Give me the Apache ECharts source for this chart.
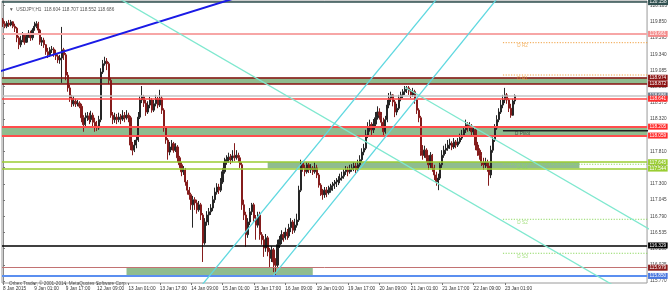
<!DOCTYPE html>
<html><head><meta charset="utf-8">
<script src="https://cdn.jsdelivr.net/npm/echarts@6/dist/echarts.min.js"></script>
<style>html,body{margin:0;padding:0;background:#fff}#c{width:670px;height:292px}</style>
</head><body><div id="c"></div>
<script>
// ---- data ----
const tickLabels = ["8 Jan 2015","9 Jan 01:00","9 Jan 17:00","12 Jan 09:00","13 Jan 01:00","13 Jan 17:00","14 Jan 09:00","15 Jan 01:00","15 Jan 17:00","16 Jan 09:00","19 Jan 01:00","19 Jan 17:00","20 Jan 09:00","21 Jan 01:00","21 Jan 17:00","22 Jan 09:00","23 Jan 01:00"];
const priceTicks = [115.770,116.025,116.280,116.535,116.790,117.045,117.300,117.555,117.810,118.065,118.320,118.575,118.830,119.085,119.340,119.595,119.850,120.105];
const slotCount = 329;
const barsPerLabel = 16;
const opens = [
119.88,119.82,119.78,119.83,119.80,119.85,119.78,119.75,119.60,119.49,
119.56,119.64,119.53,119.61,119.67,119.60,119.72,119.78,119.82,119.72,
119.53,119.56,119.49,119.38,119.33,119.41,119.42,119.34,119.31,119.25,
119.28,119.41,119.33,119.01,118.81,118.65,118.56,118.60,118.56,118.57,
118.52,118.34,118.23,118.34,118.37,118.31,118.38,118.27,118.21,118.18,
118.31,119.06,119.19,119.23,119.19,118.93,118.38,118.31,118.35,118.31,
118.35,118.32,118.37,118.34,118.38,118.34,117.91,117.83,117.91,117.99,
118.35,118.62,118.67,118.57,118.43,118.54,118.62,118.46,118.56,118.64,
118.54,118.65,118.46,118.18,117.99,117.80,117.88,117.93,117.83,117.88,
117.71,117.60,117.49,117.52,117.33,117.20,117.13,116.97,117.05,117.00,
116.89,116.97,116.81,116.37,116.70,116.81,116.86,116.92,117.05,117.17,
117.25,117.20,117.33,117.49,117.64,117.68,117.72,117.68,117.74,117.71,
117.75,117.71,117.60,116.97,116.81,116.50,116.70,116.86,116.97,116.76,
116.65,116.81,116.50,116.42,116.29,116.45,116.23,116.13,116.26,116.07,
116.02,116.34,116.42,116.50,116.45,116.54,116.48,116.61,116.70,116.57,
116.65,116.73,117.20,117.63,117.55,117.49,117.60,117.52,117.55,117.49,
117.55,117.44,117.28,117.17,117.13,117.20,117.16,117.20,117.24,117.27,
117.30,117.33,117.36,117.39,117.42,117.49,117.52,117.49,117.53,117.55,
117.58,117.52,117.60,117.68,117.80,117.86,118.07,118.18,118.23,118.15,
118.24,118.34,118.43,118.38,118.27,118.12,118.31,118.54,118.65,118.70,
118.59,118.43,118.49,118.65,118.70,118.75,118.79,118.81,118.76,118.70,
118.75,118.62,118.46,118.34,117.83,117.75,117.83,117.71,117.60,117.75,
117.55,117.44,117.33,117.39,117.60,117.75,117.83,117.86,117.91,117.94,
117.88,117.96,117.91,117.96,118.02,118.07,118.15,118.23,118.18,118.21,
118.12,118.15,117.91,117.83,117.75,117.64,117.60,117.64,117.58,117.44,
117.83,117.99,118.18,118.31,118.43,118.54,118.62,118.70,118.62,118.49,
118.38,118.604];
const closes = [
119.82,119.78,119.83,119.80,119.85,119.78,119.75,119.60,119.49,119.56,
119.64,119.53,119.61,119.67,119.60,119.72,119.78,119.82,119.72,119.53,
119.56,119.49,119.38,119.33,119.41,119.42,119.34,119.31,119.25,119.28,
119.41,119.33,119.01,118.81,118.65,118.56,118.60,118.56,118.57,118.52,
118.34,118.23,118.34,118.37,118.31,118.38,118.27,118.21,118.18,118.31,
119.06,119.19,119.23,119.19,118.93,118.38,118.31,118.35,118.31,118.35,
118.32,118.37,118.34,118.38,118.34,117.91,117.83,117.91,117.99,118.35,
118.62,118.67,118.57,118.43,118.54,118.62,118.46,118.56,118.64,118.54,
118.65,118.46,118.18,117.99,117.80,117.88,117.93,117.83,117.88,117.71,
117.60,117.49,117.52,117.33,117.20,117.13,116.97,117.05,117.00,116.89,
116.97,116.81,116.37,116.70,116.81,116.86,116.92,117.05,117.17,117.25,
117.20,117.33,117.49,117.64,117.68,117.72,117.68,117.74,117.71,117.75,
117.71,117.60,116.97,116.81,116.50,116.70,116.86,116.97,116.76,116.65,
116.81,116.50,116.42,116.29,116.45,116.23,116.13,116.26,116.07,116.02,
116.34,116.42,116.50,116.45,116.54,116.48,116.61,116.70,116.57,116.65,
116.73,117.20,117.63,117.55,117.49,117.60,117.52,117.55,117.49,117.55,
117.44,117.28,117.17,117.13,117.20,117.16,117.20,117.24,117.27,117.30,
117.33,117.36,117.39,117.42,117.49,117.52,117.49,117.53,117.55,117.58,
117.52,117.60,117.68,117.80,117.86,118.07,118.18,118.23,118.15,118.24,
118.34,118.43,118.38,118.27,118.12,118.31,118.54,118.65,118.70,118.59,
118.43,118.49,118.65,118.70,118.75,118.79,118.81,118.76,118.70,118.75,
118.62,118.46,118.34,117.83,117.75,117.83,117.71,117.60,117.75,117.55,
117.44,117.33,117.39,117.60,117.75,117.83,117.86,117.91,117.94,117.88,
117.96,117.91,117.96,118.02,118.07,118.15,118.23,118.18,118.21,118.12,
118.15,117.91,117.83,117.75,117.64,117.60,117.64,117.58,117.44,117.83,
117.99,118.18,118.31,118.43,118.54,118.62,118.70,118.62,118.49,118.38,
118.604,118.686];
const highs = [
119.91,119.86,119.86,119.88,119.88,119.86,119.82,119.77,119.63,119.63,
119.69,119.66,119.67,119.72,119.71,119.75,119.85,119.86,119.85,119.74,
119.61,119.60,119.50,119.44,119.45,119.47,119.45,119.41,119.34,119.33,
119.77,119.44,119.36,119.06,118.86,118.70,118.68,118.64,118.62,118.60,
118.56,118.38,118.42,118.43,118.42,118.45,118.42,118.34,118.29,118.37,
119.12,119.25,119.30,119.28,119.22,118.97,118.43,118.42,118.40,118.42,
118.40,118.46,118.43,118.46,118.42,118.37,117.96,117.99,118.07,118.43,
118.68,118.84,118.70,118.62,118.60,118.67,118.65,118.62,118.70,118.67,
118.78,118.68,118.49,118.21,118.02,117.96,117.99,117.96,117.94,117.91,
117.74,117.64,117.58,117.55,117.36,117.25,117.16,117.11,117.09,117.05,
117.03,117.00,116.84,116.76,116.87,116.92,116.98,117.11,117.24,117.31,
117.30,117.39,117.55,117.71,117.75,117.79,117.77,117.83,117.94,117.83,
117.79,117.75,117.64,117.05,116.86,116.76,116.92,117.00,117.00,116.81,
116.86,116.86,116.54,116.48,116.51,116.48,116.29,116.32,116.29,116.13,
116.42,116.48,116.57,116.54,116.61,116.59,116.67,116.76,116.73,116.75,
116.83,117.27,117.68,117.66,117.60,117.64,117.63,117.61,117.58,117.64,
117.60,117.47,117.31,117.22,117.25,117.25,117.27,117.30,117.33,117.36,
117.39,117.42,117.46,117.49,117.53,117.58,117.57,117.60,117.61,117.64,
117.63,117.68,117.75,117.86,117.93,118.15,118.27,118.31,118.27,118.32,
118.43,118.52,118.49,118.43,118.34,118.37,118.62,118.73,118.75,118.71,
118.62,118.56,118.70,118.75,118.79,118.84,118.84,118.84,118.79,118.81,
118.78,118.65,118.49,118.37,117.91,117.90,117.86,117.75,117.80,117.77,
117.60,117.49,117.46,117.64,117.83,117.90,117.93,117.99,118.01,117.97,
118.02,117.99,118.02,118.09,118.15,118.21,118.31,118.27,118.27,118.24,
118.21,118.18,117.96,117.86,117.80,117.71,117.71,117.68,117.64,117.90,
118.05,118.24,118.38,118.49,118.62,118.70,118.81,118.73,118.65,118.56,
118.64,118.707];
const lows = [
119.77,119.75,119.75,119.77,119.78,119.75,119.69,119.53,119.42,119.45,
119.53,119.49,119.52,119.60,119.55,119.56,119.71,119.75,119.67,119.49,
119.47,119.44,119.33,119.28,119.30,119.36,119.30,119.25,119.20,119.19,
118.89,119.25,118.93,118.75,118.59,118.51,118.52,118.51,118.52,118.49,
118.27,118.12,118.20,118.29,118.24,118.27,118.21,118.12,118.13,118.15,
118.27,119.03,119.16,119.09,118.87,118.34,118.24,118.26,118.24,118.27,
118.24,118.29,118.27,118.31,118.27,117.83,117.75,117.80,117.86,117.96,
118.32,118.57,118.51,118.37,118.40,118.49,118.42,118.43,118.52,118.49,
118.51,118.40,118.12,117.93,117.68,117.75,117.83,117.79,117.80,117.64,
117.55,117.42,117.44,117.27,117.13,117.05,116.89,116.61,116.89,116.83,
116.86,116.73,116.07,116.34,116.64,116.65,116.81,116.87,117.00,117.13,
117.14,117.17,117.30,117.46,117.60,117.63,117.61,117.64,117.66,117.68,
117.64,117.55,116.89,116.73,116.31,116.45,116.65,116.81,116.70,116.42,
116.61,116.42,116.34,116.15,116.23,116.16,115.99,116.07,115.91,115.85,
115.98,116.29,116.35,116.39,116.42,116.42,116.45,116.54,116.51,116.53,
116.61,116.70,117.17,117.49,117.42,117.46,117.47,117.47,117.44,117.46,
117.39,117.24,117.11,117.05,117.08,117.09,117.13,117.16,117.19,117.22,
117.25,117.28,117.31,117.35,117.38,117.44,117.42,117.46,117.49,117.50,
117.47,117.49,117.57,117.64,117.75,117.83,118.02,118.12,118.07,118.10,
118.20,118.31,118.31,118.18,118.04,118.09,118.27,118.49,118.59,118.52,
118.35,118.38,118.46,118.60,118.65,118.70,118.73,118.70,118.65,118.67,
118.56,118.40,118.27,117.74,117.68,117.71,117.64,117.52,117.55,117.49,
117.36,117.27,117.20,117.36,117.55,117.71,117.77,117.82,117.85,117.83,
117.85,117.86,117.88,117.93,117.99,118.04,118.10,118.12,118.13,118.05,
118.07,117.83,117.74,117.68,117.58,117.52,117.55,117.49,117.27,117.39,
117.79,117.96,118.15,118.27,118.40,118.49,118.57,118.56,118.43,118.34,
118.37,118.552];

// horizontal price levels with axis tags
const tagValues = [120.158, 119.661, 118.974, 118.872, 118.686, 118.641, 118.205, 118.059, 117.645, 117.544, 116.329, 115.979, 115.850];
// zones [low, high] and their bar range (null = full width)
const zoneLevels = [[118.872, 118.974], [118.059, 118.205], [117.544, 117.645], [115.850, 115.979]];
const zoneBars = [null, null, [135, 294], [63, 158]];
// trend lines as [barIndex, price] pairs
const blueTrend = [[-10, 118.99], [130, 120.335]];
const fallA = [[50, 120.382], [330, 115.368]];
const fallB = [[205, 118.82], [330, 116.58]];
const riseA = [[95, 115.464], [230, 120.540]];
const riseB = [[138, 115.86], [260, 120.52]];
// daily pivots
const pivotNames = ['D R2', 'D R1', 'D Pivot', 'D S1', 'D S2', 'D S3'];
const pivotValues = [119.522, 119.013, 118.137, 117.608, 116.742, 116.207];
const pivotStart = 255;
const pivotLabelBar = 265;
const header = '\u25BC  USDJPY,H1  118.604 118.707 118.552 118.686';
const footer = 'Orbex Trader, \u00A9 2001-2014, MetaQuotes Software Corp.';

// ---- styles ----
const FONT = 'Liberation Sans';
const FS = 4.7;
const tagStyles = [
  {line: '#2f4f4f', w: 1.5, bg: '#2f4f4f'},
  {line: '#f7a6a6', w: 2, bg: '#f48b8b'},
  {line: '#8b1010', w: 1.5, bg: '#8b1010'},
  {line: '#8b1010', w: 1.5, bg: '#8b1010'},
  {line: '#c4c4c4', w: 1.5, bg: '#6c7c8c'},
  {line: '#ff4444', w: 1.5, bg: '#ff2e2e'},
  {line: '#ff4d4d', w: 2.2, bg: '#ff2e2e'},
  {line: '#ff4d4d', w: 2.2, bg: '#ff2e2e'},
  {line: '#9acd32', w: 1.5, bg: '#9acd32'},
  {line: '#9acd32', w: 1.5, bg: '#9acd32'},
  {line: '#000000', w: 1.5, bg: '#000000'},
  {line: '#c27272', w: 1, bg: '#8b1a1a'},
  {line: '#5b8ff0', w: 2, bg: '#4a78e0'}
];
const pivotColors = ['#f0a040', '#f0a040', '#222222', '#8ed860', '#8ed860', '#8ed860'];

const categories = Array.from({length: slotCount}, (_, i) => String(i));
const labelFor = (v) => {
  const i = Number(v);
  return (i % barsPerLabel === 0 && tickLabels[i / barsPerLabel]) ? tickLabels[i / barsPerLabel] : '';
};
const candleData = opens.map((o, i) => [o, closes[i], lows[i], highs[i]]);

const trend = (data, color, width) => ({
  type: 'line', xAxisIndex: 1, yAxisIndex: 0, data, symbol: 'none', clip: true, z: 5, silent: true,
  lineStyle: {color, width}, animation: false
});

const zoneData = zoneLevels.map((z, k) => {
  const b = zoneBars[k];
  if (!b) return [{yAxis: z[0]}, {yAxis: z[1]}];
  return [{coord: [b[0], z[0]]}, {coord: [b[1], z[1]]}];
});

const series = [
  {
    type: 'line', xAxisIndex: 1, yAxisIndex: 0, data: [], z: 1, silent: true,
    markArea: {silent: true, itemStyle: {color: '#8fbc8f', opacity: 1}, data: zoneData}
  },
  {
    type: 'candlestick', xAxisIndex: 0, yAxisIndex: 0, data: candleData, barWidth: 1.7, z: 3,
    itemStyle: {color: '#262626', color0: '#851c1c', borderColor: '#262626', borderColor0: '#851c1c', borderWidth: 1},
    animation: false
  },
  {
    type: 'line', xAxisIndex: 1, yAxisIndex: 0, data: [], z: 6, silent: true,
    markLine: {
      silent: true, symbol: ['none', 'none'], animation: false,
      data: tagValues.map((v, k) => ({
        yAxis: v,
        lineStyle: {color: tagStyles[k].line, width: tagStyles[k].w, type: 'solid'},
        label: {show: true, position: 'end', distance: 1, formatter: v.toFixed(3), color: '#fff',
          backgroundColor: tagStyles[k].bg, padding: [0.5, 1.5, 0, 1.5], fontSize: FS, fontFamily: FONT, lineHeight: 5.5}
      }))
    }
  },
  trend(blueTrend, '#1a1ae6', 2),
  trend(fallA, '#7fe8cf', 1.3),
  trend(fallB, '#7fe8cf', 1.3),
  trend(riseA, '#5fd8e0', 1.3),
  trend(riseB, '#5fd8e0', 1.3)
];

pivotValues.forEach((v, k) => {
  series.push({
    type: 'line', xAxisIndex: 1, yAxisIndex: 0, symbol: 'none', silent: true, z: 4, animation: false,
    data: [[pivotStart, v], [slotCount, v]],
    lineStyle: {color: pivotColors[k], width: k === 2 ? 1.5 : 1, type: k === 2 ? 'solid' : [1.2, 1.5]}
  });
});
series.push({
  type: 'scatter', xAxisIndex: 1, yAxisIndex: 0, symbolSize: 0, silent: true, z: 7, animation: false,
  data: pivotValues.map((v, k) => ({value: [pivotLabelBar, v], name: pivotNames[k],
    label: {color: pivotColors[k] === '#222222' ? '#333' : pivotColors[k]}})),
  label: {show: true, position: 'bottom', distance: 1, formatter: (p) => p.name, fontSize: FS, fontFamily: FONT}
});

const chart = echarts.init(document.getElementById('c'), null, {renderer: 'canvas'});
chart.setOption({
  animation: false,
  backgroundColor: '#ffffff',
  textStyle: {fontFamily: FONT},
  title: [
    {text: header, left: 4, top: 2.5, textStyle: {fontSize: FS, fontWeight: 'normal', color: '#555', fontFamily: FONT}},
    {text: footer, left: 4, top: 276.5, textStyle: {fontSize: FS, fontWeight: 'normal', color: '#555', fontFamily: FONT}}
  ],
  grid: {left: 0, right: 21, top: 1, bottom: 9, show: true, borderColor: '#9a9a9a', borderWidth: 1, backgroundColor: '#fff'},
  xAxis: [
    {
      type: 'category', data: categories, boundaryGap: true,
      axisLine: {show: false},
      axisTick: {show: true, interval: (i) => labelFor(i) !== '', length: 2, alignWithLabel: true, lineStyle: {color: '#777'}},
      axisLabel: {interval: 0, hideOverlap: false, formatter: (v) => labelFor(v),
        align: 'left', fontSize: FS, color: '#333', margin: 3, fontFamily: FONT},
      splitLine: {show: false}
    },
    {type: 'value', min: -0.5, max: slotCount - 0.5, show: false}
  ],
  yAxis: [{
    type: 'value', position: 'right', min: 115.739, max: 120.178, scale: true,
    axisLine: {show: true, lineStyle: {color: '#8a8a8a'}},
    axisTick: {show: true, length: 2, customValues: priceTicks, lineStyle: {color: '#777'}},
    axisLabel: {customValues: priceTicks, formatter: (v) => v.toFixed(3), fontSize: FS, color: '#444', margin: 3, fontFamily: FONT},
    splitLine: {show: false}
  }],
  series
});
</script>
</body></html>
